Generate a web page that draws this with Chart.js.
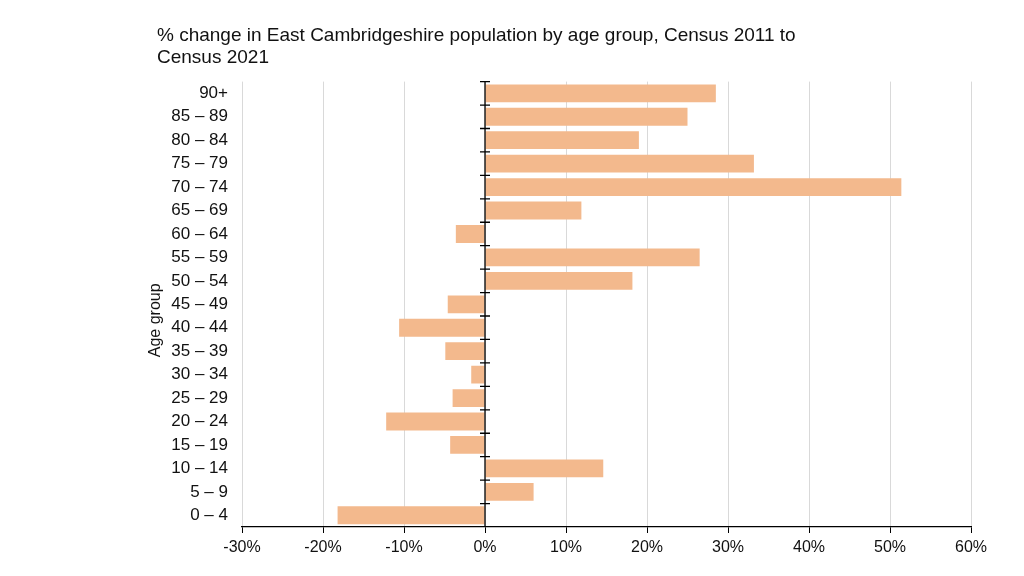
<!DOCTYPE html>
<html>
<head>
<meta charset="utf-8">
<script src="https://cdn.jsdelivr.net/npm/chart.js@4"></script>
<style>
  body { margin: 0; background: #fff; }
</style>
</head>
<body>
<canvas id="popChart" width="1024" height="576"></canvas>
<script>
const ageGroups = ['90+', '85 – 89', '80 – 84', '75 – 79', '70 – 74', '65 – 69', '60 – 64', '55 – 59', '50 – 54',
    '45 – 49', '40 – 44', '35 – 39', '30 – 34', '25 – 29', '20 – 24', '15 – 19', '10 – 14', '5 – 9', '0 – 4'];
const changePct = [28.5, 25.0, 19.0, 33.2, 51.4, 11.9, -3.6, 26.5, 18.2,
    -4.6, -10.6, -4.9, -1.7, -4.0, -12.2, -4.3, 14.6, 6.0, -18.2];
const xMin = -30;
const xMax = 60;
const xStep = 10;
const yTitle = 'Age group';

const fontFamily = '"Liberation Sans", Arial, sans-serif';

// black axis at 0% with small cross ticks between age groups
const zeroAxis = {
    id: 'zeroAxis',
    afterDatasetsDraw(chart) {
        const { ctx, chartArea, scales } = chart;
        const x0 = scales.x.getPixelForValue(0);
        const step = scales.y.getPixelForValue(1) - scales.y.getPixelForValue(0);
        ctx.save();
        ctx.strokeStyle = '#000';
        ctx.lineWidth = 1.3;
        ctx.beginPath();
        ctx.moveTo(x0, chartArea.top);
        ctx.lineTo(x0, chartArea.bottom);
        for (let i = 0; i < ageGroups.length; i++) {
            const yy = scales.y.getPixelForValue(i) - step / 2;
            ctx.moveTo(x0 - 5, yy);
            ctx.lineTo(x0 + 5, yy);
        }
        ctx.stroke();

        // axis title sits a bit below the middle in the original
        ctx.translate(scales.y.left - 1, (chartArea.top + chartArea.bottom) / 2 + 16);
        ctx.rotate(-Math.PI / 2);
        ctx.fillStyle = '#111';
        ctx.font = '16px ' + fontFamily;
        ctx.textAlign = 'center';
        ctx.textBaseline = 'middle';
        ctx.fillText(yTitle, 0, 0);
        ctx.restore();
    }
};

new Chart(document.getElementById('popChart').getContext('2d'), {
    type: 'bar',
    data: {
        labels: ageGroups,
        datasets: [{
            data: changePct,
            backgroundColor: '#f3b98d',
            barPercentage: 0.76,
            categoryPercentage: 1
        }]
    },
    options: {
        indexAxis: 'y',
        responsive: false,
        animation: false,
        layout: { padding: { left: 157, right: 53, top: 24, bottom: 0 } },
        plugins: {
            legend: { display: false },
            tooltip: { enabled: false },
            title: {
                display: true,
                align: 'start',
                text: ['% change in East Cambridgeshire population by age group, Census 2011 to', 'Census 2021'],
                color: '#111',
                font: { family: fontFamily, size: 19, weight: 'normal', lineHeight: 1.2 },
                padding: { top: 0, bottom: 12 }
            }
        },
        scales: {
            x: {
                min: xMin,
                max: xMax,
                afterFit(scale) { scale.height = 49; },
                ticks: {
                    stepSize: xStep,
                    padding: 5,
                    color: '#111',
                    font: { family: fontFamily, size: 16 },
                    callback: v => v + '%'
                },
                grid: { color: '#d9d9d9', tickColor: '#000', tickLength: 6 },
                border: { color: '#000', width: 1.3 }
            },
            y: {
                afterFit(scale) { scale.width = 85; },
                ticks: {
                    padding: 14,
                    color: '#111',
                    font: { family: fontFamily, size: 17 }
                },
                grid: { display: false, drawTicks: false },
                border: { display: false }
            }
        }
    },
    plugins: [zeroAxis]
});
</script>
</body>
</html>
